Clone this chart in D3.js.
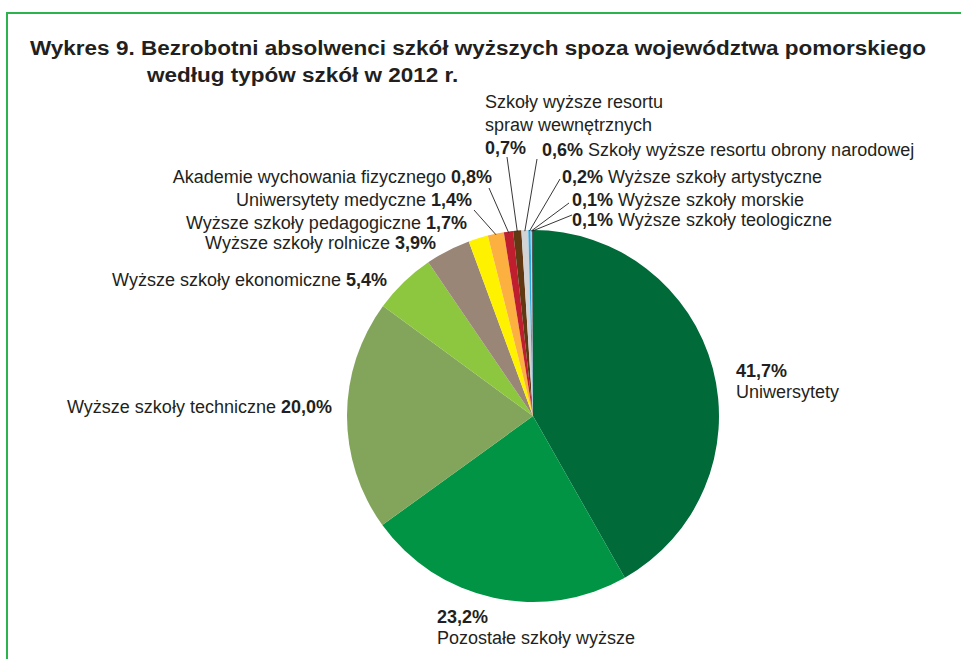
<!DOCTYPE html>
<html><head><meta charset="utf-8">
<script src="https://cdn.jsdelivr.net/npm/d3@7"></script>
<style>
html,body{margin:0;padding:0;background:#fff;}
svg{display:block;font-family:"Liberation Sans",Arial,sans-serif;}
</style></head>
<body>
<svg id="chart" width="961" height="659"></svg>
<script>
// ---- data ----
const categories = [
  "Uniwersytety",
  "Pozostałe szkoły wyższe",
  "Wyższe szkoły techniczne",
  "Wyższe szkoły ekonomiczne",
  "Wyższe szkoły rolnicze",
  "Wyższe szkoły pedagogiczne",
  "Uniwersytety medyczne",
  "Akademie wychowania fizycznego",
  "Szkoły wyższe resortu spraw wewnętrznych",
  "Szkoły wyższe resortu obrony narodowej",
  "Wyższe szkoły artystyczne",
  "Wyższe szkoły morskie",
  "Wyższe szkoły teologiczne"
];
const values = [41.7, 23.2, 20.0, 5.4, 3.9, 1.7, 1.4, 0.8, 0.7, 0.6, 0.2, 0.1, 0.1];
const valueLabels = ["41,7%","23,2%","20,0%","5,4%","3,9%","1,7%","1,4%","0,8%","0,7%","0,6%","0,2%","0,1%","0,1%"];
const colors = ["#006a38","#009444","#82a55b","#8dc63f","#9a8676","#fff200","#fbb040","#be1e2d","#603913","#d1d3d4","#27aae1","#a8dcf3","#58595b"];
const titleLines = [
  "Wykres 9. Bezrobotni absolwenci szkół wyższych spoza województwa pomorskiego",
  "według typów szkół w 2012 r."
];

// ---- layout (label placement) ----
const labelLayout = [
  {mode:"stack", x:736, y:377, anchor:"start"},
  {mode:"stack", x:437, y:623, anchor:"start"},
  {mode:"namePct", x:332, y:413, anchor:"end"},
  {mode:"namePct", x:387, y:286, anchor:"end"},
  {mode:"namePct", x:436, y:249, anchor:"end"},
  {mode:"namePct", x:467, y:229, anchor:"end"},
  {mode:"namePct", x:472, y:206, anchor:"end", lx:474, ly:210},
  {mode:"namePct", x:492, y:183, anchor:"end", lx:489, ly:188},
  {mode:"multi", x:485, y:108, anchor:"start", lines:["Szkoły wyższe resortu","spraw wewnętrznych"], lx:507, ly:157},
  {mode:"pctName", x:542, y:156, anchor:"start", lx:537, ly:159},
  {mode:"pctName", x:562, y:183, anchor:"start", lx:560, ly:179},
  {mode:"pctName", x:572, y:206, anchor:"start", lx:569, ly:203},
  {mode:"pctName", x:572, y:226, anchor:"start", lx:572, ly:215}
];

const svg = d3.select("#chart");
const cx = 533, cy = 416, R = 186;
const fs = 18;

// frame
svg.append("path")
  .attr("d", "M7,659 L7,13 L961,13")
  .attr("fill","none").attr("stroke","#2db34e").attr("stroke-width",2);

// title
const title = svg.append("text").attr("font-weight","bold").attr("font-size",20).attr("fill","#231f20");
const t1 = title.append("tspan").attr("x",30).attr("y",55).text(titleLines[0]);
const t2 = title.append("tspan").attr("x",147).attr("y",82).text(titleLines[1]);
const w1 = t1.node().getComputedTextLength(), w2 = t2.node().getComputedTextLength();
const stretch = 896 / w1;
t1.attr("textLength", 896).attr("lengthAdjust","spacingAndGlyphs");
t2.attr("textLength", w2*stretch).attr("lengthAdjust","spacingAndGlyphs");

// pie
const data = values.map((v,i)=>({name:categories[i], value:v, label:valueLabels[i], color:colors[i], lay:labelLayout[i]}));
const pie = d3.pie().sort(null).value(d=>d.value);
const arcs = pie(data);
const arc = d3.arc().innerRadius(0).outerRadius(R);
const g = svg.append("g").attr("transform",`translate(${cx},${cy})`);
g.selectAll("path").data(arcs).join("path")
  .attr("d", arc).attr("fill", d=>d.data.color);

// leader lines
arcs.forEach(a=>{
  const L = a.data.lay;
  if (L.lx === undefined) return;
  const mid = (a.startAngle + a.endAngle)/2;
  const x0 = cx + (R-1)*Math.sin(mid), y0 = cy - (R-1)*Math.cos(mid);
  svg.append("line").attr("x1",x0).attr("y1",y0).attr("x2",L.lx).attr("y2",L.ly)
    .attr("stroke","#231f20").attr("stroke-width",0.9);
});

// labels
arcs.forEach(a=>{
  const d = a.data, L = d.lay;
  const t = svg.append("text").attr("font-size",fs).attr("fill","#231f20").attr("text-anchor",L.anchor);
  if (L.mode === "stack") {
    t.append("tspan").attr("x",L.x).attr("y",L.y).attr("font-weight","bold").text(d.label);
    t.append("tspan").attr("x",L.x).attr("y",L.y+21).text(d.name);
  } else if (L.mode === "namePct") {
    t.attr("x",L.x).attr("y",L.y);
    t.append("tspan").text(d.name + " ");
    t.append("tspan").attr("font-weight","bold").text(d.label);
  } else if (L.mode === "pctName") {
    t.attr("x",L.x).attr("y",L.y);
    t.append("tspan").attr("font-weight","bold").text(d.label);
    t.append("tspan").text(" " + d.name);
  } else if (L.mode === "multi") {
    L.lines.forEach((ln,k)=>t.append("tspan").attr("x",L.x).attr("y",L.y+k*23).text(ln));
    t.append("tspan").attr("x",L.x).attr("y",L.y+L.lines.length*23).attr("font-weight","bold").text(d.label);
  }
});
</script>
</body></html>
